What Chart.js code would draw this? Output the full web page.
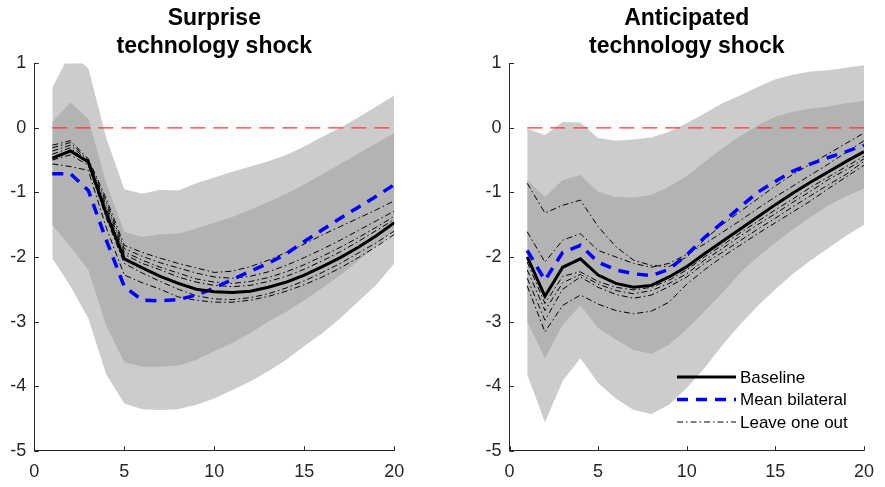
<!DOCTYPE html>
<html>
<head>
<meta charset="utf-8">
<script src="https://cdn.jsdelivr.net/npm/chart.js@4.4.1/dist/chart.umd.min.js"></script>
<style>
  html, body { margin: 0; padding: 0; background: #fff; }
  #wrap { position: relative; width: 885px; height: 487px; }
  #left { position: absolute; left: 0; top: 0; }
  #right { position: absolute; left: 445px; top: 0; }
</style>
</head>
<body>
<div id="wrap">
  <canvas id="left" width="445" height="487"></canvas>
  <canvas id="right" width="440" height="487"></canvas>
</div>
<script>
// Impulse responses, horizons 1..20
const horizons = [1, 2, 3, 4, 5, 6, 7, 8, 9, 10, 11, 12, 13, 14, 15, 16, 17, 18, 19, 20];
const xTicks = [0, 5, 10, 15, 20];
const yTicks = [-5, -4, -3, -2, -1, 0, 1];
const zeroLineX = [1, 20];
const zeroLineY = [0, 0];

// --- Surprise technology shock ---
const surpOuterUp = [0.62, 1.16, 0.92, -0.16, -0.95, -1.02, -0.96, -0.97, -0.86, -0.77, -0.68, -0.6, -0.52, -0.42, -0.29, -0.14, 0.0, 0.16, 0.33, 0.5];
const surpOuterLo = [-2.02, -2.45, -2.95, -3.82, -4.27, -4.36, -4.37, -4.36, -4.29, -4.19, -4.06, -3.93, -3.77, -3.59, -3.38, -3.18, -2.95, -2.69, -2.43, -2.1];
const surpInnerUp = [0.09, 0.39, 0.14, -0.86, -1.61, -1.69, -1.65, -1.64, -1.56, -1.47, -1.38, -1.27, -1.15, -1.02, -0.88, -0.72, -0.56, -0.4, -0.24, -0.08];
const surpInnerLo = [-1.5, -1.84, -2.2, -3.07, -3.63, -3.7, -3.7, -3.68, -3.59, -3.46, -3.33, -3.18, -3.0, -2.85, -2.67, -2.48, -2.28, -2.06, -1.83, -1.6];
const surpBaseline = [-0.47, -0.36, -0.53, -1.33, -2.03, -2.17, -2.3, -2.41, -2.5, -2.54, -2.55, -2.53, -2.47, -2.39, -2.28, -2.15, -2.01, -1.85, -1.67, -1.47];
const surpMean = [-0.71, -0.71, -0.97, -1.74, -2.46, -2.67, -2.68, -2.66, -2.59, -2.48, -2.35, -2.22, -2.1, -1.95, -1.76, -1.58, -1.4, -1.23, -1.06, -0.88];
const surpLoo = [
  [-0.27, -0.2, -0.48, -1.1, -1.82, -1.93, -2.02, -2.1, -2.17, -2.24, -2.22, -2.15, -2.05, -1.93, -1.8, -1.66, -1.53, -1.4, -1.27, -1.13],
  [-0.31, -0.23, -0.5, -1.15, -1.87, -1.99, -2.09, -2.17, -2.25, -2.31, -2.33, -2.3, -2.23, -2.13, -2.01, -1.88, -1.74, -1.59, -1.44, -1.29],
  [-0.36, -0.27, -0.52, -1.2, -1.92, -2.05, -2.16, -2.25, -2.34, -2.39, -2.41, -2.38, -2.32, -2.23, -2.12, -1.99, -1.85, -1.7, -1.54, -1.37],
  [-0.41, -0.31, -0.54, -1.25, -1.96, -2.1, -2.2, -2.31, -2.39, -2.44, -2.46, -2.44, -2.38, -2.3, -2.19, -2.06, -1.92, -1.76, -1.59, -1.42],
  [-0.5, -0.42, -0.58, -1.4, -2.1, -2.25, -2.38, -2.5, -2.6, -2.65, -2.66, -2.63, -2.57, -2.48, -2.37, -2.24, -2.1, -1.94, -1.78, -1.6],
  [-0.56, -0.6, -0.66, -1.55, -2.28, -2.4, -2.5, -2.62, -2.67, -2.7, -2.7, -2.67, -2.61, -2.53, -2.43, -2.31, -2.17, -2.01, -1.84, -1.65],
];

// --- Anticipated technology shock ---
const antOuterUp = [-0.01, -0.11, 0.09, 0.08, -0.16, -0.2, -0.18, -0.15, -0.06, 0.07, 0.22, 0.38, 0.5, 0.63, 0.75, 0.82, 0.87, 0.89, 0.93, 0.97];
const antOuterLo = [-3.82, -4.56, -3.92, -3.57, -3.95, -4.19, -4.37, -4.43, -4.29, -4.03, -3.72, -3.37, -3.05, -2.76, -2.5, -2.26, -2.05, -1.86, -1.67, -1.5];
const antInnerUp = [-0.81, -1.07, -0.81, -0.73, -0.99, -1.07, -1.08, -1.04, -0.91, -0.75, -0.53, -0.32, -0.13, 0.04, 0.17, 0.25, 0.3, 0.33, 0.38, 0.42];
const antInnerLo = [-3.0, -3.57, -3.05, -2.75, -3.1, -3.28, -3.44, -3.5, -3.36, -3.12, -2.84, -2.56, -2.25, -2.0, -1.78, -1.57, -1.38, -1.2, -1.06, -0.94];
const antBaseline = [-2.0, -2.61, -2.16, -2.03, -2.28, -2.41, -2.47, -2.44, -2.31, -2.15, -1.95, -1.76, -1.57, -1.38, -1.19, -1.01, -0.84, -0.68, -0.52, -0.37];
const antMean = [-1.9, -2.36, -1.93, -1.82, -2.08, -2.2, -2.26, -2.29, -2.19, -1.97, -1.7, -1.47, -1.23, -1.0, -0.83, -0.67, -0.56, -0.46, -0.37, -0.27];
const antLoo = [
  [-0.86, -1.32, -1.2, -1.12, -1.53, -1.84, -2.05, -2.13, -2.15, -2.0, -1.73, -1.5, -1.3, -1.1, -0.9, -0.72, -0.56, -0.4, -0.24, -0.08],
  [-1.61, -2.08, -1.74, -1.64, -1.9, -2.0, -2.1, -2.16, -2.1, -1.96, -1.8, -1.62, -1.44, -1.25, -1.07, -0.9, -0.73, -0.56, -0.38, -0.2],
  [-2.08, -2.72, -2.3, -2.23, -2.38, -2.47, -2.51, -2.47, -2.36, -2.2, -2.0, -1.82, -1.63, -1.45, -1.27, -1.1, -0.92, -0.76, -0.6, -0.44],
  [-2.2, -2.83, -2.4, -2.27, -2.42, -2.52, -2.57, -2.52, -2.41, -2.26, -2.05, -1.87, -1.68, -1.5, -1.33, -1.15, -0.98, -0.8, -0.65, -0.48],
  [-2.33, -2.98, -2.5, -2.31, -2.47, -2.58, -2.64, -2.59, -2.46, -2.31, -2.1, -1.93, -1.75, -1.57, -1.4, -1.22, -1.05, -0.88, -0.72, -0.52],
  [-2.45, -3.16, -2.75, -2.59, -2.73, -2.83, -2.88, -2.84, -2.7, -2.42, -2.2, -2.0, -1.82, -1.64, -1.47, -1.3, -1.13, -0.94, -0.76, -0.58],
];

const AXIS = "#262626";
const FONT = "'Liberation Sans', Arial, Helvetica, sans-serif";

const pts = (xs, ys) => xs.map((x, i) => ({ x, y: ys[i] }));

function bandSet(ys, color, fillTo, order) {
  return {
    data: pts(horizons, ys), borderWidth: 0, borderColor: "rgba(0,0,0,0)",
    backgroundColor: color, fill: fillTo === null ? false : fillTo,
    pointRadius: 0, order,
  };
}

function buildDatasets(p) {
  const sets = [
    { label: "Baseline", legend: true, data: pts(horizons, p.baseline), borderColor: "#000", borderWidth: 3, pointRadius: 0, fill: false, order: 0 },
    { label: "Mean bilateral", legend: true, data: pts(horizons, p.mean), borderColor: "#0000ff", borderWidth: 3.5, borderDash: [11, 8], pointRadius: 0, fill: false, order: 1 },
  ];
  p.loo.forEach((ys, i) => sets.push({
    label: "Leave one out", legend: i === 0, data: pts(horizons, ys), borderColor: "#000",
    borderWidth: 1, borderDash: [6, 3, 1.5, 3], pointRadius: 0, fill: false, order: 2,
  }));
  sets.push({ label: "zero", data: pts(zeroLineX, zeroLineY), borderColor: "#ff3333", borderWidth: 1.2, borderDash: [15, 8], pointRadius: 0, fill: false, order: 3 });
  // bands: fill targets are absolute dataset indices
  const n = sets.length;
  sets.push(bandSet(p.innerUp, "#b3b3b3", n + 1, 10));
  sets.push(bandSet(p.innerLo, "#b3b3b3", null, 11));
  sets.push(bandSet(p.outerUp, "#cccccc", n + 3, 20));
  sets.push(bandSet(p.outerLo, "#cccccc", null, 21));
  return sets;
}

// MATLAB-style ticks pointing into the plot
const inwardTicks = {
  id: "inwardTicks",
  afterDatasetsDraw(chart) {
    const { ctx, chartArea, scales } = chart;
    ctx.save();
    ctx.strokeStyle = AXIS;
    ctx.lineWidth = 1;
    ctx.beginPath();
    scales.x.ticks.forEach((t) => {
      const px = Math.round(scales.x.getPixelForValue(t.value)) + 0.5;
      ctx.moveTo(px, chartArea.bottom);
      ctx.lineTo(px, chartArea.bottom - 4.5);
    });
    scales.y.ticks.forEach((t) => {
      const py = Math.round(scales.y.getPixelForValue(t.value)) + 0.5;
      ctx.moveTo(chartArea.left, py);
      ctx.lineTo(chartArea.left + 4.5, py);
    });
    ctx.stroke();
    ctx.restore();
  },
};

// legend drawn inside the plot, MATLAB-like (no box)
const insetLegend = {
  id: "insetLegend",
  afterDraw(chart, args, opts) {
    if (!opts.show) return;
    const ctx = chart.ctx;
    const items = chart.data.datasets.filter((d) => d.legend);
    ctx.save();
    ctx.font = `${opts.fontSize}px ${FONT}`;
    ctx.textBaseline = "middle";
    ctx.fillStyle = "#000";
    items.forEach((d, i) => {
      const y = opts.y + i * opts.gap;
      ctx.strokeStyle = d.borderColor;
      ctx.lineWidth = d.borderWidth;
      ctx.setLineDash(d.borderDash || []);
      ctx.beginPath();
      ctx.moveTo(opts.x, y);
      ctx.lineTo(opts.x + opts.lineLen, y);
      ctx.stroke();
      ctx.fillText(d.label, opts.x + opts.lineLen + 4, y + 1);
    });
    ctx.restore();
  },
};

function makeChart(id, title, p, padLeft, padRight, legendOpts) {
  return new Chart(document.getElementById(id), {
    type: "line",
    data: { datasets: buildDatasets(p) },
    plugins: [inwardTicks, insetLegend],
    options: {
      responsive: false,
      animation: false,
      devicePixelRatio: 1,
      layout: { padding: { left: padLeft, right: padRight, top: 0, bottom: 0 } },
      plugins: {
        legend: { display: false },
        tooltip: { enabled: false },
        title: {
          display: true, text: title, fullSize: false, color: "#000",
          font: { family: FONT, size: 23, weight: "bold", lineHeight: 1.2 },
          padding: { top: 5, bottom: 3 },
        },
        insetLegend: legendOpts,
      },
      scales: {
        x: {
          type: "linear", min: 0, max: 20,
          afterBuildTicks: (s) => { s.ticks = xTicks.map((v) => ({ value: v })); },
          afterFit: (s) => { s.height = 36.3; },
          grid: { display: false, drawTicks: false },
          border: { display: true, color: AXIS, width: 1 },
          ticks: { color: AXIS, padding: 11, font: { family: FONT, size: 18 } },
        },
        y: {
          min: -5, max: 1,
          afterBuildTicks: (s) => { s.ticks = yTicks.map((v) => ({ value: v })); },
          afterFit: (s) => { s.width = 34.3; },
          grid: { display: false, drawTicks: false },
          border: { display: true, color: AXIS, width: 1 },
          ticks: { color: AXIS, padding: 8, font: { family: FONT, size: 18 } },
        },
      },
    },
  });
}

makeChart("left", ["Surprise", "technology shock"], {
  outerUp: surpOuterUp, outerLo: surpOuterLo, innerUp: surpInnerUp, innerLo: surpInnerLo,
  baseline: surpBaseline, mean: surpMean, loo: surpLoo,
}, 0, 50.7, { show: false });

makeChart("right", ["Anticipated", "technology shock"], {
  outerUp: antOuterUp, outerLo: antOuterLo, innerUp: antInnerUp, innerLo: antInnerLo,
  baseline: antBaseline, mean: antMean, loo: antLoo,
}, 30.2, 14, { show: true, x: 232, y: 377, gap: 22.5, lineLen: 59, fontSize: 17 });
</script>
</body>
</html>
